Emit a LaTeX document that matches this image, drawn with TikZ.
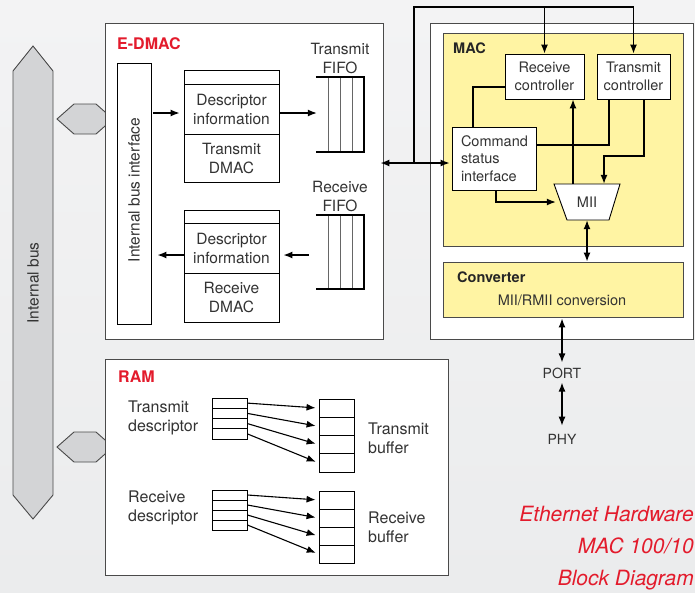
\documentclass[tikz,border=0pt]{standalone}
\usepackage{fontspec}
\setmainfont{TeX Gyre Heros}
\usetikzlibrary{arrows.meta,calc}
\definecolor{txt}{HTML}{333333}
\definecolor{hred}{HTML}{E31B2C}
\definecolor{macy}{HTML}{FFF4A3}
\definecolor{busg}{HTML}{D3D4D6}
\definecolor{edge}{HTML}{4A4A4A}
\definecolor{bgtop}{HTML}{F3F3F4}
\definecolor{bgbot}{HTML}{EBECED}
\begin{document}
\begin{tikzpicture}[x=1pt,y=-1pt,line join=miter,
  fE/.style={font=\fontsize{15.5}{19}\selectfont},
  fM/.style={font=\fontsize{14.5}{17.5}\selectfont},
  fR/.style={font=\fontsize{16}{19}\selectfont},
  blk/.style={draw=black, fill=white, line width=0.9pt, inner sep=0pt, text=txt, align=center},
  frame/.style={draw=edge, fill=white, line width=0.9pt, inner sep=0pt},
  ylw/.style={draw=edge, fill=macy, line width=0.9pt, inner sep=0pt},
  conn/.style={line width=1.3pt, draw=black},
  arr/.style={conn, -{Latex[length=9pt,width=7pt]}},
  arr2/.style={conn, {Latex[length=9pt,width=7pt]}-{Latex[length=9pt,width=7pt]}},
  lbl/.style={text=txt, inner sep=0pt},
  hlbl/.style={text=hred, font=\fontsize{16}{19}\selectfont\bfseries, inner sep=0pt, anchor=west},
  busshape/.style={draw=edge, fill=busg, line width=0.9pt},
  fifoedge/.style={line width=1.8pt, draw=black},
  fifoin/.style={line width=0.8pt, draw=black!60}
]
\useasboundingbox (0,0) rectangle (695,592);
\fill[top color=bgtop, bottom color=bgbot] (0,0) rectangle (695,592);

% Internal bus
\draw[busshape] (13,71) -- (33,46) -- (53,71) -- (53,495) -- (33,519) -- (13,495) -- cycle;
\node[lbl, fE, rotate=90] (ibus) at (33,283) {Internal bus};
\draw[busshape] (57,119) -- (74,104) -- (96,104) -- (113,119) -- (96,134) -- (74,134) -- cycle;
\draw[busshape] (57,447) -- (74,432) -- (96,432) -- (113,447) -- (96,462) -- (74,462) -- cycle;

% E-DMAC
\node[frame, minimum width=278pt, minimum height=316pt] (edmac) at (244,181) {};
\node[hlbl] (edmaclbl) at (117,44) {E-DMAC};
\node[blk, minimum width=34pt, minimum height=261pt] (ibi) at (134,193.5) {};
\node[lbl, fE, rotate=90] (ibitxt) at (134,190) {Internal bus interface};

\node[blk, minimum width=95pt, minimum height=14pt] (txstrip) at (231.5,77) {};
\node[blk, fE, minimum width=95pt, minimum height=50pt] (txdesc) at (231.5,109) {Descriptor\\information};
\node[blk, fE, minimum width=95pt, minimum height=48pt] (txdmac) at (231.5,158) {Transmit\\DMAC};

\node[blk, minimum width=95pt, minimum height=13pt] (rxstrip) at (231.5,216.5) {};
\node[blk, fE, minimum width=95pt, minimum height=50pt] (rxdesc) at (231.5,248) {Descriptor\\information};
\node[blk, fE, minimum width=95pt, minimum height=49pt] (rxdmac) at (231.5,297.5) {Receive\\DMAC};

% FIFOs
\node[minimum width=48pt, minimum height=74pt, inner sep=0pt] (txfifo) at (340,114.5) {};
\foreach \dx in {-12,0,12} \draw[fifoin] ([xshift=\dx pt]txfifo.north) -- ([xshift=\dx pt]txfifo.south);
\draw[fifoedge] (txfifo.north west) -- (txfifo.north east) -- (txfifo.south east) -- (txfifo.south west);
\node[lbl, fE, align=center] (txfifolbl) at (340,58.5) {Transmit\\FIFO};

\node[minimum width=48pt, minimum height=74pt, inner sep=0pt] (rxfifo) at (340,252) {};
\foreach \dx in {-12,0,12} \draw[fifoin] ([xshift=\dx pt]rxfifo.north) -- ([xshift=\dx pt]rxfifo.south);
\draw[fifoedge] (rxfifo.north west) -- (rxfifo.north east) -- (rxfifo.south east) -- (rxfifo.south west);
\node[lbl, fE, align=center] (rxfifolbl) at (340,196.5) {Receive\\FIFO};

\coordinate (ty) at (0,113);
\coordinate (ry) at (0,255);
\draw[arr, shorten <=2pt, shorten >=4pt] (ibi.east |- ty) -- (txdesc.west |- ty);
\draw[arr, shorten >=-1pt] (txdesc.east |- ty) -- (txfifo.west |- ty);
\draw[arr, shorten <=7pt, shorten >=4pt] (rxfifo.west |- ry) -- (rxdesc.east |- ry);
\draw[arr, shorten >=6pt] (rxdesc.west |- ry) -- (ibi.east |- ry);

% MAC side
\node[frame, minimum width=263pt, minimum height=316pt] (macouter) at (561.5,181) {};
\node[ylw, minimum width=240pt, minimum height=213pt] (mac) at (563,139.5) {};
\node[anchor=west, inner sep=0pt, font=\fontsize{14.5}{17}\selectfont\bfseries, text=black!85] (maclbl) at (453,48) {MAC};
\node[blk, fM, minimum width=79pt, minimum height=45pt] (rxc) at (544.5,76.5) {Receive\\controller};
\node[blk, fM, minimum width=73pt, minimum height=45pt] (txc) at (633.5,76.5) {Transmit\\controller};
\node[blk, fM, minimum width=84pt, minimum height=63pt, text width=66pt, align=left, inner xsep=9pt] (csi) at (494,158.5) {Command\\status\\interface};
\draw[draw=black, fill=white, line width=0.9pt] (554,184) -- (620,184) -- (609,220) -- (567,220) -- cycle;
\node[lbl, fM, minimum width=62pt, minimum height=36pt] (mii) at (587,202) {MII};

\node[ylw, minimum width=240pt, minimum height=55pt] (conv) at (563,289.5) {};
\node[anchor=west, inner sep=0pt, font=\fontsize{14.5}{17}\selectfont\bfseries, text=black!85] (convlbl) at (457,277) {Converter};
\node[lbl, fM] (convtxt) at (562,300) {MII/RMII conversion};

\node[lbl, font=\fontsize{14}{17}\selectfont] (port) at (562,373) {PORT};
\node[lbl, font=\fontsize{14}{17}\selectfont] (phy) at (562,439) {PHY};

% E-DMAC <-> MAC bus
\coordinate (by) at (0,163);
\coordinate (j1) at (414,163);
\coordinate (j2) at (414,7);
\coordinate (j3) at (544.5,7);
\coordinate (j4) at (633.5,7);
\draw[arr2, shorten <=-3pt, shorten >=2pt] (edmac.east |- by) -- (csi.west |- by);
\draw[conn] (j1) -- (j2) -- (j4);
\draw[arr] (j3) -- (rxc.north);
\draw[arr] (j4) -- (txc.north);

% internal MAC connections
\coordinate (c1) at (473,87);
\coordinate (c2) at (609,145);
\coordinate (c3) at (644,156);
\coordinate (c4) at (604,156);
\coordinate (c5) at (573,0);
\draw[conn] (csi.north -| c1) -- (c1) -- (rxc.west |- c1);
\draw[conn] (csi.east |- c2) -- (c2) -- (txc.south -| c2);
\draw[arr] (txc.south -| c3) -- (c3) -- (c4) -- (mii.north -| c4);
\draw[arr] (mii.north -| c5) -- (rxc.south -| c5);
\draw[arr] ([xshift=2pt]csi.south) |- (mii.west);
\draw[arr2] (mii.south) -- (mii.south |- conv.north);
\draw[arr2, shorten <=1pt, shorten >=5pt] (conv.south -| port) -- (port.north);
\draw[arr2, shorten <=4pt, shorten >=8pt] (port.south) -- (phy.north);

% RAM
\node[frame, minimum width=343pt, minimum height=216pt] (ram) at (276.5,467) {};
\node[hlbl] (ramlbl) at (118,377) {RAM};

\node[lbl, fR, anchor=west, align=left] (tdlbl) at (128,417.5) {Transmit\\descriptor};
\node[lbl, fR, anchor=west, align=left] (tblbl) at (368,438) {Transmit\\buffer};
\node[lbl, fR, anchor=west, align=left] (rdlbl) at (128,507.5) {Receive\\descriptor};
\node[lbl, fR, anchor=west, align=left] (rblbl) at (368,527) {Receive\\buffer};

\foreach \i/\yd/\yb in {1/403.1/408.1, 2/413.4/426.4, 3/423.6/444.6, 4/433.9/462.9} {
  \node[blk, minimum width=35pt, minimum height=10.25pt] (td\i) at (229.5,\yd) {};
  \node[blk, minimum width=35pt, minimum height=18.25pt] (tb\i) at (336.5,\yb) {};
}
\foreach \i/\yd/\yb in {1/495/500, 2/505/518, 3/515/536, 4/525/554} {
  \node[blk, minimum width=35pt, minimum height=10pt] (rd\i) at (229.5,\yd) {};
  \node[blk, minimum width=35pt, minimum height=18pt] (rb\i) at (336.5,\yb) {};
}
\foreach \i in {1,...,4} {
  \draw[arr, line width=1.1pt, shorten >=3pt] (td\i.east) -- (tb\i.west);
  \draw[arr, line width=1.1pt, shorten >=3pt] (rd\i.east) -- (rb\i.west);
}

% title
\node[anchor=east, align=right, inner sep=0pt, text=hred, font=\fontsize{21}{32}\selectfont\itshape] (title) at (694,548) {Ethernet Hardware\\MAC 100/10\\Block Diagram};
\end{tikzpicture}
\end{document}
